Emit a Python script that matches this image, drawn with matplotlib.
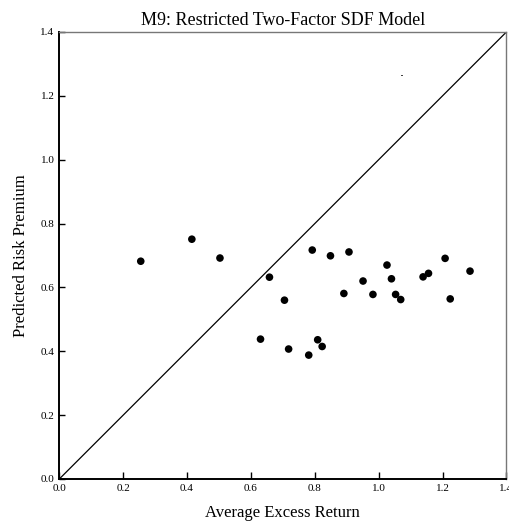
import matplotlib
matplotlib.use("Agg")
import matplotlib.pyplot as plt

avg_excess_return = [0.255, 0.415, 0.503, 0.658, 0.705, 0.630, 0.718, 0.792, 0.849, 0.907,
                     1.026, 0.951, 0.891, 0.982, 1.040, 1.053, 1.069, 1.139, 1.156, 1.208,
                     1.224, 1.286, 0.809, 0.823, 0.781]
predicted_premium = [0.682, 0.751, 0.692, 0.632, 0.560, 0.438, 0.407, 0.717, 0.699, 0.711,
                     0.670, 0.620, 0.581, 0.578, 0.627, 0.578, 0.562, 0.633, 0.644, 0.691,
                     0.564, 0.651, 0.436, 0.415, 0.388]
stray_x = [1.072]
stray_y = [1.264]
ticks = [0.0, 0.2, 0.4, 0.6, 0.8, 1.0, 1.2, 1.4]
tick_labels = ["0.0", "0.2", "0.4", "0.6", "0.8", "1.0", "1.2", "1.4"]

plt.rcParams['font.family'] = ['Liberation Serif', 'DejaVu Serif']

fig = plt.figure(figsize=(5.10, 5.24), dpi=100)
ax = fig.add_axes([0.1163, 0.0859, 0.8767, 0.8531])

ax.plot([0, 1.4], [0, 1.4], color='black', lw=0.9, zorder=1)
ax.scatter(avg_excess_return, predicted_premium, s=30, color='black', edgecolors='none', zorder=3)
ax.scatter(stray_x, stray_y, s=1.5, color='#444444', edgecolors='none', marker='s', zorder=3)

ax.set_xlim(0, 1.4)
ax.set_ylim(0, 1.4)
ax.set_xticks(ticks)
ax.set_xticklabels(tick_labels)
ax.set_yticks(ticks)
ax.set_yticklabels(tick_labels)
ax.tick_params(axis='x', direction='in', length=5, width=1, labelsize=8, pad=3.5)
ax.tick_params(axis='y', direction='in', length=4, width=1, labelsize=8, pad=3.5)

for s in ['left', 'bottom']:
    ax.spines[s].set_color('black')
    ax.spines[s].set_linewidth(1.4)
for s in ['top', 'right']:
    ax.spines[s].set_color('#777777')
    ax.spines[s].set_linewidth(1.0)

ax.set_title("M9: Restricted Two-Factor SDF Model", fontsize=13, pad=5)
ax.set_xlabel("Average Excess Return", fontsize=12, labelpad=9)
ax.set_ylabel("Predicted Risk Premium", fontsize=12, labelpad=8)

fig.savefig("out.png", dpi=100)
